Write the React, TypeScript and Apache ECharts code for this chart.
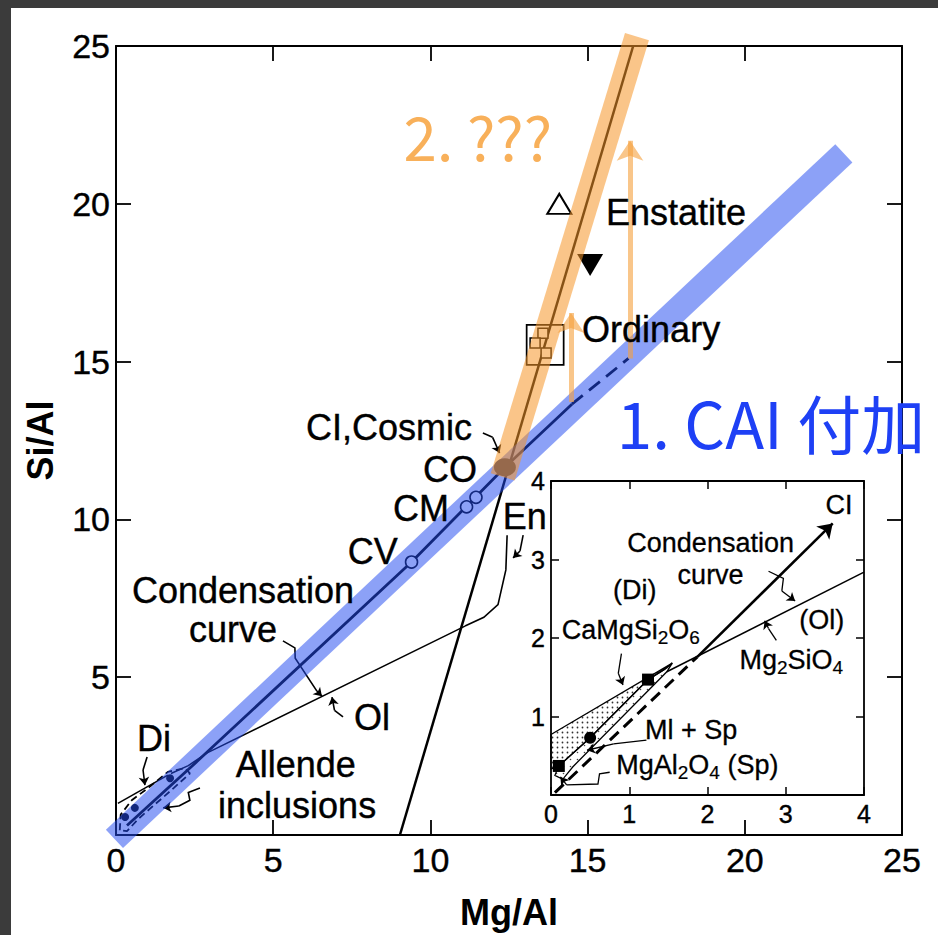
import React, { useEffect, useRef } from "react";
import * as echarts from "echarts";

const W = 938;
const H = 935;
const FONT = "'Liberation Sans', Arial, Helvetica, sans-serif";
const CJK = "'Noto Sans CJK JP', 'Noto Sans', sans-serif";

// ---------- axes ----------
const MAIN_MIN = 0;
const MAIN_MAX = 25;
const MAIN_STEP = 5;
const INSET_MIN = 0;
const INSET_MAX = 4;
const INSET_STEP = 1;

// ---------- main panel data (x = Mg/Al, y = Si/Al) ----------
const condensationSolid = [[0.35, 0.3], [2.6, 2.35], [9.4, 8.65], [12.37, 11.65], [14.5, 13.65]];
const condensationDashed = [[14.5, 13.65], [16.3, 15.1]];
const enstatiteLine = [[9.03, 0], [16.45, 25]];
const olivineLine = [[1.75, 1.95], [2.3, 2.2], [2.9, 2.6], [11.1, 6.62]];
const diopsideLine = [[0.06, 1.0], [1.65, 1.9]];
const allendeOutline = [
  [0.12, 0.15], [0.15, 0.65], [0.5, 1.1], [1.1, 1.55], [1.65, 2.0], [2.2, 2.12],
  [2.35, 1.95], [1.85, 1.5], [1.25, 0.98], [0.7, 0.5], [0.35, 0.12], [0.12, 0.15],
];
const allendeDots = [[0.29, 0.57], [0.6, 0.86], [1.72, 1.8]];
const chondriteNames = ["CV", "CM", "CO"];
const chondriteX = [9.4, 11.15, 11.45];
const chondriteY = [8.65, 10.4, 10.7];
const ciCosmic = [12.37, 11.65];
const enstatiteOpen = [14.1, 20.0];
const enstatiteFilled = [15.08, 18.06];
const ordinaryBox = [13.65, 15.53];
const ordinaryPoints = [[13.58, 15.9], [13.33, 15.59], [13.68, 15.27]];
const caiBand = [[-0.05, -0.12], [23.15, 21.6]];
const enBand = [[12.3, 11.35], [16.57, 25.3]];
const ordinaryArrow = [[14.47, 13.72], [14.47, 16.54]];
const enstatiteArrow = [[16.35, 15.1], [16.35, 22.0]];

// ---------- inset data ----------
const insetOlivine = [[1.48, 1.57], [4, 2.84]];
const insetCondDashed = [[0.05, 0.03], [1.87, 1.76]];
const insetCondArrow = [[1.87, 1.76], [3.6, 3.46]];
const insetDiRegion = [[0, 0.77], [1.55, 1.68], [1.45, 1.6], [1.24, 1.47], [0.5, 0.73], [0.1, 0.37], [0, 0.33]];
const insetSpRegion = [[0.1, 0.37], [0.5, 0.73], [1.24, 1.47], [1.45, 1.6], [1.55, 1.68], [1.48, 1.57], [0.28, 0.36], [0.15, 0.2], [0.05, 0.25]];
const insetDots = [[0.5, 0.73]];
const insetSquares = [[1.24, 1.47], [0.1, 0.37]];

// ---------- annotation leaders (data coordinates of each panel) ----------
const mainLeaders = [
  { pts: [[11.67, 12.74], [11.98, 12.6], [12.2, 12.1]], arrow: true },
  { pts: [[12.44, 9.5], [12.4, 8.4], [12.15, 7.3], [11.7, 6.9], [11.1, 6.62]], arrow: false },
  { pts: [[12.95, 9.5], [12.85, 9.0], [12.63, 8.78]], arrow: true },
  { pts: [[5.31, 6.15], [5.69, 5.93], [5.7, 5.6], [6.39, 4.56], [6.55, 4.4]], arrow: true },
  { pts: [[7.22, 3.74], [6.95, 3.95], [6.87, 4.37]], arrow: true },
  { pts: [[0.99, 2.47], [0.86, 2.06], [0.92, 1.58]], arrow: true },
  { pts: [[2.67, 1.49], [2.3, 1.35], [2.35, 1.1], [2.0, 0.92], [1.5, 0.86]], arrow: true },
];
const insetLeaders = [
  { pts: [[2.78, 2.85], [2.97, 2.76], [2.95, 2.6], [3.12, 2.47]], arrow: true },
  { pts: [[2.88, 1.97], [2.78, 2.12], [2.73, 2.22]], arrow: true },
  { pts: [[0.9, 1.8], [0.86, 1.55], [0.92, 1.4]], arrow: true },
  { pts: [[1.22, 0.7], [0.8, 0.65], [0.46, 0.57]], arrow: true },
  { pts: [[0.75, 0.29], [0.62, 0.27], [0.6, 0.14], [0.2, 0.13], [0.12, 0.23]], arrow: true },
];

// ---------- text labels ----------
const mainLabels = [
  { t: "CI,Cosmic", p: [8.68, 12.9] },
  { t: "CO", p: [10.62, 11.57] },
  { t: "CM", p: [9.7, 10.36] },
  { t: "CV", p: [8.17, 8.97] },
  { t: "En", p: [13.0, 10.08] },
  { t: "Condensation", p: [4.04, 7.76] },
  { t: "curve", p: [3.72, 6.5] },
  { t: "Ol", p: [8.14, 3.71] },
  { t: "Di", p: [1.21, 3.07] },
  { t: "Allende", p: [5.72, 2.22] },
  { t: "inclusions", p: [5.76, 0.95] },
  { t: "Enstatite", p: [17.81, 19.71] },
  { t: "Ordinary", p: [17.02, 16.03] },
];
const noteOrange = [{ t: "2. ???", p: [11.51, 22.18], c: "#F8B05A" }];
const noteBlue = [{ t: "1. CAI 付加", p: [20.83, 13.12], c: "#1E40F5" }];
const insetLabels = [
  { t: "CI", p: [3.68, 3.69] },
  { t: "Condensation", p: [2.04, 3.21] },
  { t: "curve", p: [2.04, 2.8] },
  { t: "(Di)", p: [1.07, 2.61] },
  { t: "CaMgSi{s|2}O{s|6}", p: [1.02, 2.1] },
  { t: "(Ol)", p: [3.46, 2.23] },
  { t: "Mg{s|2}SiO{s|4}", p: [3.07, 1.72] },
  { t: "Ml + Sp", p: [1.79, 0.83] },
  { t: "MgAl{s|2}O{s|4} (Sp)", p: [1.87, 0.38] },
];

function dotPattern(spacing: number, r: number, color: string) {
  const c = document.createElement("canvas");
  c.width = spacing;
  c.height = spacing;
  const ctx = c.getContext("2d")!;
  ctx.fillStyle = color;
  ctx.beginPath();
  ctx.arc(spacing / 2, spacing / 2, r, 0, Math.PI * 2);
  ctx.fill();
  return { image: c, repeat: "repeat", imageWidth: spacing, imageHeight: spacing };
}

function makeAxis(kind: "x" | "y", gridIndex: number, position: string, min: number, max: number, step: number, opts: any) {
  return {
    type: "value",
    gridIndex,
    position,
    min,
    max,
    interval: step,
    axisLine: { show: true, onZero: false, lineStyle: { color: "#000", width: opts.lineW } },
    axisTick: { show: true, inside: true, length: opts.tickLen, lineStyle: { color: "#000", width: opts.tickW } },
    axisLabel: opts.label
      ? {
          show: true, fontSize: opts.fontSize, color: "#000", fontFamily: FONT, margin: opts.margin,
          formatter: opts.formatter, textBorderColor: "#000", textBorderWidth: 0.4,
        }
      : { show: false },
    splitLine: { show: false },
    ...(opts.name
      ? {
          name: opts.name,
          nameLocation: "middle",
          nameGap: opts.nameGap,
          nameTextStyle: { fontSize: 36, fontWeight: "bold", color: "#000", fontFamily: FONT },
        }
      : {}),
  };
}

function leaderSeries(leaders: any[], xi: number, yi: number, width: number) {
  const segs: any[] = [];
  const heads: any[] = [];
  leaders.forEach((l) => {
    const n = l.pts.length;
    if (l.arrow) {
      if (n > 2) segs.push({ coords: l.pts.slice(0, n - 1) });
      heads.push({ coords: [l.pts[n - 2], l.pts[n - 1]] });
    } else {
      segs.push({ coords: l.pts });
    }
  });
  return [
    {
      type: "lines", coordinateSystem: "cartesian2d", xAxisIndex: xi, yAxisIndex: yi,
      polyline: true, silent: true, data: segs,
      lineStyle: { color: "#000", width, opacity: 1 }, z: 6,
    },
    {
      type: "lines", coordinateSystem: "cartesian2d", xAxisIndex: xi, yAxisIndex: yi,
      silent: true, data: heads, symbol: ["none", "arrow"], symbolSize: 8,
      lineStyle: { color: "#000", width, opacity: 1 }, z: 6,
    },
  ];
}

function labelSeries(items: any[], xi: number, yi: number, style: any) {
  return {
    type: "scatter",
    xAxisIndex: xi,
    yAxisIndex: yi,
    silent: true,
    symbolSize: 1,
    itemStyle: { color: "rgba(0,0,0,0)", opacity: 1 },
    z: 20,
    data: items.map((it) => ({
      value: it.p,
      label: {
        show: true,
        position: "inside",
        formatter: it.t,
        align: "center",
        verticalAlign: "middle",
        color: it.c || "#000",
        opacity: 1,
        ...style,
      },
    })),
  };
}

function scatter(data: any, xi: number, yi: number, extra: any, z = 4) {
  return {
    type: "scatter", xAxisIndex: xi, yAxisIndex: yi, silent: true, z, data,
    ...extra,
    itemStyle: { opacity: 1, ...extra.itemStyle },
  };
}

function buildOption() {
  const line = (data: any, xi: number, yi: number, ls: any, z = 3) => ({
    type: "line",
    xAxisIndex: xi,
    yAxisIndex: yi,
    data,
    showSymbol: false,
    symbol: "none",
    silent: true,
    clip: false,
    lineStyle: ls,
    z,
  });

  const insetRegions = [
    { pts: insetDiRegion, fill: dotPattern(5, 0.9, "#333") },
    { pts: insetSpRegion, fill: dotPattern(7, 0.8, "#444") },
  ];

  return {
    animation: false,
    backgroundColor: "#3b3b3b",
    graphic: [
      { type: "rect", z: -100, shape: { x: 11, y: 8, width: W - 11, height: H - 8 }, style: { fill: "#ffffff" } },
    ],
    grid: [
      { left: 116, top: 46, width: 786, height: 789, show: false },
      { left: 551, top: 481, width: 313, height: 314, show: true, backgroundColor: "#ffffff", borderWidth: 0 },
    ],
    xAxis: [
      makeAxis("x", 0, "bottom", MAIN_MIN, MAIN_MAX, MAIN_STEP, {
        lineW: 2, tickLen: 15, tickW: 1.8, label: true, fontSize: 34, margin: 8, name: "Mg/Al", nameGap: 59,
      }),
      makeAxis("x", 0, "top", MAIN_MIN, MAIN_MAX, MAIN_STEP, { lineW: 2, tickLen: 15, tickW: 1.8, label: false }),
      makeAxis("x", 1, "bottom", INSET_MIN, INSET_MAX, INSET_STEP, {
        lineW: 1.8, tickLen: 8, tickW: 1.5, label: true, fontSize: 25, margin: 6,
      }),
      makeAxis("x", 1, "top", INSET_MIN, INSET_MAX, INSET_STEP, { lineW: 1.8, tickLen: 8, tickW: 1.5, label: false }),
    ],
    yAxis: [
      makeAxis("y", 0, "left", MAIN_MIN, MAIN_MAX, MAIN_STEP, {
        lineW: 2, tickLen: 15, tickW: 1.8, label: true, fontSize: 34, margin: 6, name: "Si/Al", nameGap: 58,
        formatter: (v: number) => (v === 0 ? "" : String(v)),
      }),
      makeAxis("y", 0, "right", MAIN_MIN, MAIN_MAX, MAIN_STEP, { lineW: 2, tickLen: 15, tickW: 1.8, label: false }),
      makeAxis("y", 1, "left", INSET_MIN, INSET_MAX, INSET_STEP, {
        lineW: 1.8, tickLen: 8, tickW: 1.5, label: true, fontSize: 25, margin: 6,
        formatter: (v: number) => (v === 0 ? "" : String(v)),
      }),
      makeAxis("y", 1, "right", INSET_MIN, INSET_MAX, INSET_STEP, { lineW: 1.8, tickLen: 8, tickW: 1.5, label: false }),
    ],
    series: [
      // main panel lines
      line(enstatiteLine, 0, 0, { color: "#000", width: 2.5 }),
      line(olivineLine, 0, 0, { color: "#000", width: 1.5 }),
      line(diopsideLine, 0, 0, { color: "#000", width: 1.5 }),
      line(condensationSolid, 0, 0, { color: "#000", width: 2.8 }),
      line(condensationDashed, 0, 0, { color: "#000", width: 2.8, type: [14, 8] }),
      line(allendeOutline, 0, 0, { color: "#000", width: 1.8, type: [7, 4] }),
      scatter(allendeDots, 0, 0, { symbol: "circle", symbolSize: 8, itemStyle: { color: "#000" } }),
      scatter(
        chondriteNames.map((n, i) => ({ name: n, value: [chondriteX[i], chondriteY[i]] })), 0, 0,
        { symbol: "circle", symbolSize: 12, itemStyle: { color: "#fff", borderColor: "#000", borderWidth: 1.6 } },
      ),
      scatter([enstatiteOpen], 0, 0, {
        symbol: "triangle", symbolSize: [24, 20], itemStyle: { color: "#fff", borderColor: "#000", borderWidth: 2 },
      }),
      scatter([enstatiteFilled], 0, 0, {
        symbol: "triangle", symbolRotate: 180, symbolSize: [26, 22], itemStyle: { color: "#000" },
      }),
      scatter([ordinaryBox], 0, 0, {
        symbol: "rect", symbolSize: [37, 40],
        itemStyle: { color: "rgba(255,255,255,0)", borderColor: "#000", borderWidth: 1.8 },
      }),
      scatter(ordinaryPoints, 0, 0, {
        symbol: "rect", symbolSize: 10, itemStyle: { color: "#fff", borderColor: "#000", borderWidth: 1.5 },
      }),
      ...leaderSeries(mainLeaders, 0, 0, 1.6),
      // highlight bands
      line(caiBand, 0, 0, { color: "rgba(35,75,240,0.52)", width: 25, cap: "butt" }, 8),
      line(enBand, 0, 0, { color: "rgba(245,150,40,0.55)", width: 25, cap: "butt" }, 9),
      scatter([ciCosmic], 0, 0, { symbol: "circle", symbolSize: [22, 18], itemStyle: { color: "#96694c" } }, 10),
      {
        type: "lines", coordinateSystem: "cartesian2d", xAxisIndex: 0, yAxisIndex: 0, silent: true, z: 11,
        data: [{ coords: ordinaryArrow }, { coords: enstatiteArrow }],
        symbol: ["none", "arrow"], symbolSize: 20,
        lineStyle: { color: "rgba(245,160,60,0.6)", width: 5, opacity: 1 },
      },
      labelSeries(mainLabels, 0, 0, { fontSize: 36, fontFamily: FONT, textBorderColor: "#000", textBorderWidth: 0.4 }),
      labelSeries(noteOrange, 0, 0, { fontSize: 60, fontFamily: CJK }),
      labelSeries(noteBlue, 0, 0, { fontSize: 64, fontFamily: CJK }),
      // inset
      {
        type: "custom", xAxisIndex: 2, yAxisIndex: 2, silent: true, z: 3,
        data: insetRegions.map((_, i) => [i]),
        renderItem: (params: any, api: any) => {
          const r = insetRegions[params.dataIndex];
          return {
            type: "polygon",
            shape: { points: r.pts.map((p) => api.coord(p)) },
            style: { fill: r.fill, stroke: "#000", lineWidth: 1.3 },
          };
        },
      },
      line(insetOlivine, 2, 2, { color: "#000", width: 1.5 }),
      line(insetCondDashed, 2, 2, { color: "#000", width: 3, type: [12, 7] }),
      {
        type: "lines", coordinateSystem: "cartesian2d", xAxisIndex: 2, yAxisIndex: 2, silent: true, z: 5,
        data: [{ coords: insetCondArrow }], symbol: ["none", "arrow"], symbolSize: 14,
        lineStyle: { color: "#000", width: 2.6, opacity: 1 },
      },
      scatter(insetDots, 2, 2, { symbol: "circle", symbolSize: 12, itemStyle: { color: "#000" } }, 5),
      scatter(insetSquares, 2, 2, { symbol: "rect", symbolSize: 12, itemStyle: { color: "#000" } }, 5),
      ...leaderSeries(insetLeaders, 2, 2, 1.3),
      labelSeries(insetLabels, 2, 2, {
        fontSize: 27, fontFamily: FONT, textBorderColor: "#000", textBorderWidth: 0.3,
        rich: { s: { fontSize: 19, fontFamily: FONT, color: "#000", textBorderColor: "#000", textBorderWidth: 0.2, padding: [15, 0, 0, 0] } },
      }),
    ],
  };
}

export default function App() {
  const ref = useRef<HTMLDivElement>(null);
  useEffect(() => {
    const chart = echarts.init(ref.current!, null, { renderer: "svg", width: W, height: H });
    chart.setOption(buildOption() as any);
    return () => chart.dispose();
  }, []);
  return <div ref={ref} style={{ position: "absolute", left: 0, top: 0, width: W, height: H }} />;
}
